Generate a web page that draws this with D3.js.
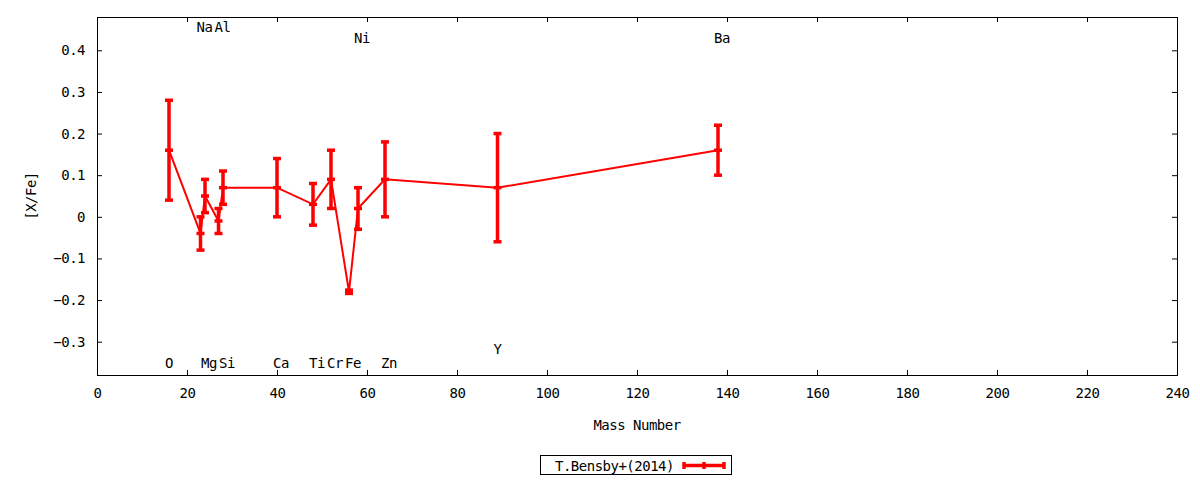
<!DOCTYPE html>
<html>
<head>
<meta charset="utf-8">
<script src="https://cdn.jsdelivr.net/npm/d3@7"></script>
<style>
    body { margin: 0; background: #fff; }
    svg text { font-family: 'DejaVu Sans Mono', monospace; font-size: 14px; letter-spacing: -0.5px; fill: #000; }
</style>
</head>
<body>
<svg id="chart" width="1200" height="480"></svg>
<script>
/* [X/Fe] abundance ratios against mass number, one series with
   y error bars, element names written next to each point. */

const elements     = ['O', 'Na', 'Mg', 'Al', 'Si', 'Ca', 'Ti', 'Cr', 'Fe', 'Ni', 'Zn', 'Y', 'Ba'];
const massNumbers  = [16, 23, 24, 27, 28, 40, 48, 52, 56, 58, 64, 89, 138];
const abundances   = [0.16, -0.04, 0.05, -0.01, 0.07, 0.07, 0.03, 0.09, -0.18, 0.02, 0.09, 0.07, 0.16];
const errors       = [0.12, 0.04, 0.04, 0.03, 0.04, 0.07, 0.05, 0.07, 0.004, 0.05, 0.09, 0.13, 0.06];
const labelLevels  = [-0.352, 0.455, -0.352, 0.455, -0.352, -0.352, -0.352, -0.352, -0.352, 0.43, -0.352, -0.318, 0.43];
const xTicks = d3.range(0, 241, 20);
const yTicks = [-0.3, -0.2, -0.1, 0, 0.1, 0.2, 0.3, 0.4];
const seriesName = 'T.Bensby+(2014)';

const RED = '#ff0000';
const CAP = 4;      // half width of the error bar caps
const TICK = 5;

const margin = {left: 97, right: 23, top: 17, bottom: 105};
const svg = d3.select('#chart');
const width = +svg.attr('width'), height = +svg.attr('height');

const x = d3.scaleLinear().domain([0, 240]).range([margin.left, width - margin.right]);
const y = d3.scaleLinear().domain([-0.38, 0.48]).range([height - margin.bottom, margin.top]);

const rows = elements.map((name, i) => ({
    name: name,
    mass: massNumbers[i],
    value: abundances[i],
    err: errors[i],
    labelY: labelLevels[i]
}));

/* axes: ticks point inward and are mirrored on the opposite side */
function drawAxes() {
    let [x0, x1] = x.range(), [y0, y1] = y.range();

    svg.append('g')
        .attr('transform', `translate(0,${y0})`)
        .call(d3.axisBottom(x).tickValues(xTicks).tickSize(-TICK).tickPadding(13).tickFormat(d3.format('d')))
        .call(g => g.select('.domain').remove());
    svg.append('g')
        .attr('transform', `translate(0,${y1})`)
        .call(d3.axisTop(x).tickValues(xTicks).tickSize(-TICK).tickFormat(''))
        .call(g => g.select('.domain').remove());
    svg.append('g')
        .attr('transform', `translate(${x0},0)`)
        .call(d3.axisLeft(y).tickValues(yTicks).tickSize(-TICK).tickPadding(12).tickFormat(d => d === 0 ? '0' : d3.format('.1f')(d)))
        .call(g => g.select('.domain').remove());
    svg.append('g')
        .attr('transform', `translate(${x1},0)`)
        .call(d3.axisRight(y).tickValues(yTicks).tickSize(-TICK).tickFormat(''))
        .call(g => g.select('.domain').remove());

    svg.selectAll('.tick line').attr('stroke', '#000');
    svg.selectAll('.tick text').attr('font-size', null).attr('font-family', null);

    svg.append('rect')
        .attr('x', x0 + 0.5)
        .attr('y', y1 + 0.5)
        .attr('width', x1 - x0)
        .attr('height', y0 - y1)
        .attr('fill', 'none')
        .attr('stroke', '#000');

    svg.append('text')
        .attr('x', (x0 + x1) / 2)
        .attr('y', 425)
        .attr('text-anchor', 'middle')
        .attr('dominant-baseline', 'central')
        .text('Mass Number');
    svg.append('text')
        .attr('transform', `translate(31,${(y0 + y1) / 2}) rotate(-90)`)
        .attr('text-anchor', 'middle')
        .attr('dominant-baseline', 'central')
        .text('[X/Fe]');
}

/* one error bar: vertical bar, caps at both ends, dash at the value */
function drawErrorBar(g, cx, top, mid, bottom) {
    g.append('line')
        .attr('x1', cx).attr('x2', cx)
        .attr('y1', top).attr('y2', bottom)
        .attr('stroke', RED).attr('stroke-width', 3.5);
    for (let yy of [top, mid, bottom]) {
        g.append('line')
            .attr('x1', cx - CAP).attr('x2', cx + CAP)
            .attr('y1', yy).attr('y2', yy)
            .attr('stroke', RED).attr('stroke-width', 3.5);
    }
}

function drawSeries() {
    let line = d3.line().x(d => x(d.mass)).y(d => y(d.value));
    svg.append('path')
        .datum(rows)
        .attr('d', line)
        .attr('fill', 'none')
        .attr('stroke', RED)
        .attr('stroke-width', 2);

    let bars = svg.append('g').attr('class', 'errorbars');
    for (let d of rows) {
        drawErrorBar(bars, x(d.mass), y(d.value + d.err), y(d.value), y(d.value - d.err));
    }

    svg.append('g')
        .selectAll('text')
        .data(rows)
        .join('text')
        .attr('x', d => x(d.mass) - 4)
        .attr('y', d => y(d.labelY))
        .attr('dominant-baseline', 'central')
        .text(d => d.name);
}

function drawLegend() {
    let g = svg.append('g');
    g.append('rect')
        .attr('x', 540.5).attr('y', 455.5)
        .attr('width', 191).attr('height', 19)
        .attr('fill', '#fff').attr('stroke', '#000');
    g.append('text')
        .attr('x', 555).attr('y', 465.5)
        .attr('dominant-baseline', 'central')
        .text(seriesName);
    g.append('line')
        .attr('x1', 683).attr('x2', 725)
        .attr('y1', 465.5).attr('y2', 465.5)
        .attr('stroke', RED).attr('stroke-width', 3.5);
    for (let cx of [684, 704, 724]) {
        g.append('line')
            .attr('x1', cx).attr('x2', cx)
            .attr('y1', 462).attr('y2', 469)
            .attr('stroke', RED).attr('stroke-width', 3.5);
    }
}

drawAxes();
drawSeries();
drawLegend();
</script>
</body>
</html>
